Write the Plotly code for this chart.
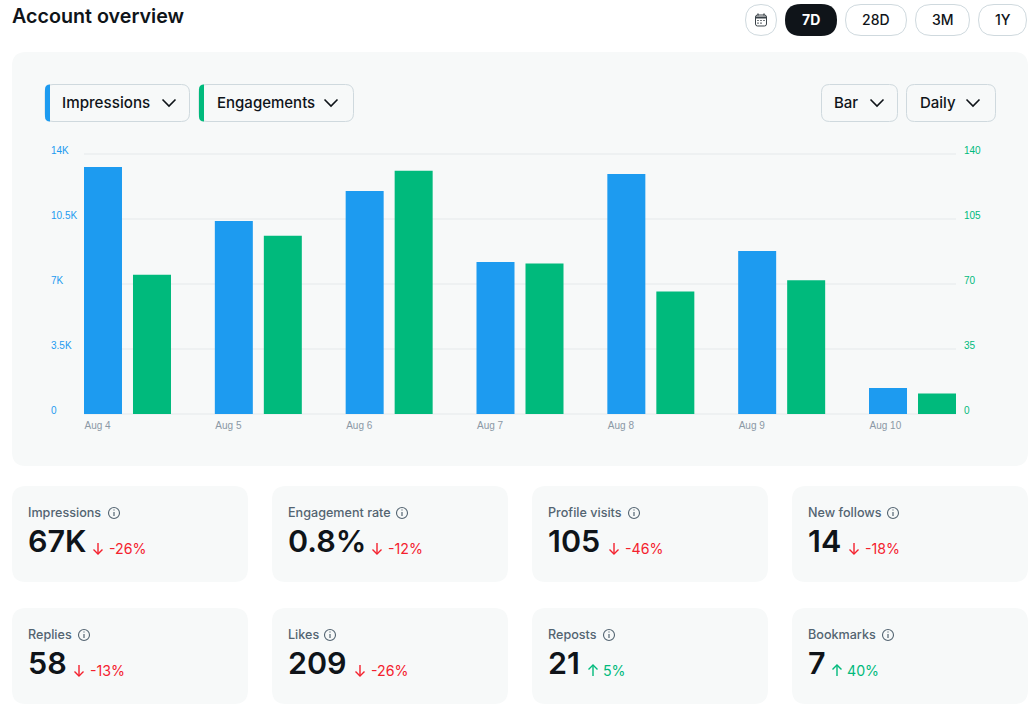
import plotly.graph_objects as go

W = 1030
H = 722

# Chart data
days = ['Aug 4', 'Aug 5', 'Aug 6', 'Aug 7', 'Aug 8', 'Aug 9', 'Aug 10']
impressions = [13300, 10390, 12010, 8185, 12920, 8780, 1400]
engagements = [75, 96, 131, 81, 66, 72, 11]

left_ticks = [0, 3500, 7000, 10500, 14000]
left_labels = ['0', '3.5K', '7K', '10.5K', '14K']
right_ticks = [0, 35, 70, 105, 140]
right_labels = ['0', '35', '70', '105', '140']

# Stat cards
card_names = ['Impressions', 'Engagement rate', 'Profile visits', 'New follows',
              'Replies', 'Likes', 'Reposts', 'Bookmarks']
card_values = ['67K', '0.8%', '105', '14', '58', '209', '21', '7']
card_deltas = ['-26%', '-12%', '-46%', '-18%', '-13%', '-26%', '5%', '40%']

# Where the small bits of each card sit, in pixels
info_x = [114, 402, 634, 893, 84, 330, 609, 888]
arrow_x = [98, 377, 614, 854, 79, 360, 593, 837]
delta_x = [109, 388, 625, 865, 90, 371, 603, 847]

INK = '#0F1419'
GREY = '#536471'
PANEL = '#F7F9F9'
BORDER = '#CFD9DE'
BLUE = '#1D9BF0'
GREEN = '#00BA7C'
RED = '#F4212E'
FONT = 'Inter'


def px(x):
    return x / W


def py(y):
    return 1 - y / H


def pt(x, y):
    return f'{px(x):.5f},{py(y):.5f}'


def round_path(x0, y0, x1, y1, r, left=True, right=True):
    # rounded box as an svg path in paper coordinates
    rl = r if left else 0
    rr = r if right else 0
    return (f'M{pt(x0 + rl, y0)} L{pt(x1 - rr, y0)} '
            f'Q{pt(x1, y0)} {pt(x1, y0 + rr)} L{pt(x1, y1 - rr)} '
            f'Q{pt(x1, y1)} {pt(x1 - rr, y1)} L{pt(x0 + rl, y1)} '
            f'Q{pt(x0, y1)} {pt(x0, y1 - rl)} L{pt(x0, y0 + rl)} '
            f'Q{pt(x0, y0)} {pt(x0 + rl, y0)} Z')


shapes = []
annotations = []


def box(x0, y0, x1, y1, r, fill, line=None, left=True, right=True):
    shapes.append(dict(type='path', xref='paper', yref='paper', layer='below',
                       path=round_path(x0, y0, x1, y1, r, left, right),
                       fillcolor=fill,
                       line=dict(color=line or 'rgba(0,0,0,0)', width=1 if line else 0)))


def stroke(points, color, width=1.5):
    path = 'M' + ' L'.join(pt(x, y) for x, y in points)
    shapes.append(dict(type='path', xref='paper', yref='paper', path=path,
                       line=dict(color=color, width=width)))


def label(x, y, text, size, color, weight=400, anchor='left', family=FONT):
    annotations.append(dict(xref='paper', yref='paper', x=px(x), y=py(y), text=text,
                            showarrow=False, xanchor=anchor, yanchor='middle',
                            borderpad=0, borderwidth=0,
                            font=dict(family=family, size=size, color=color, weight=weight)))


def chevron(cx, cy):
    stroke([(cx - 6.5, cy - 3.5), (cx, cy + 3), (cx + 6.5, cy - 3.5)], INK, 1.6)


# Header
label(12, 16, 'Account overview', 19.7, INK, 600)

box(745.5, 4.5, 776.5, 35.5, 15.5, 'white', BORDER)
box(785, 4, 837, 36, 16, INK)
box(845.5, 4.5, 906.5, 35.5, 15.5, 'white', BORDER)
box(915.5, 4.5, 969.5, 35.5, 15.5, 'white', BORDER)
box(978.5, 4.5, 1026.5, 35.5, 15.5, 'white', BORDER)
label(811, 20, '7D', 14, 'white', 700, 'center')
label(876, 20, '28D', 14, INK, 500, 'center')
label(942.5, 20, '3M', 14, INK, 500, 'center')
label(1002.5, 20, '1Y', 14, INK, 500, 'center')

# Calendar icon
box(755.5, 15, 766.5, 26, 2, 'rgba(0,0,0,0)', '#3A4248')
stroke([(755.5, 17.5), (766.5, 17.5)], '#3A4248', 2)
stroke([(758, 13.5), (758, 15.5)], '#3A4248', 1.3)
stroke([(764, 13.5), (764, 15.5)], '#3A4248', 1.3)
for gx in (758, 761, 764):
    stroke([(gx - 0.7, 20.5), (gx + 0.7, 20.5)], '#3A4248', 1.2)
for gx in (758, 761):
    stroke([(gx - 0.7, 23.2), (gx + 0.7, 23.2)], '#3A4248', 1.2)

# Chart panel
box(12, 52, 1028, 466, 14, PANEL)

# Dropdowns
box(45, 84.5, 189.5, 121.5, 8, PANEL, BORDER)
box(45, 84.5, 50, 121.5, 5, BLUE, right=False)
box(199, 84.5, 353.5, 121.5, 8, PANEL, BORDER)
box(199, 84.5, 204, 121.5, 5, GREEN, right=False)
box(821.5, 84.5, 897.5, 121.5, 8, PANEL, BORDER)
box(906.5, 84.5, 995.5, 121.5, 8, PANEL, BORDER)
label(62, 103, 'Impressions', 15.2, INK, 500)
label(217, 103, 'Engagements', 15, INK, 500)
label(834, 103, 'Bar', 15, INK, 500)
label(920, 103, 'Daily', 15, INK, 500)
chevron(169, 103)
chevron(331, 103)
chevron(877, 103)
chevron(973, 103)

# Cards
for i in range(8):
    col = i % 4
    row = i // 4
    x0 = 12 + col * 260
    y0 = 486 + row * 122
    box(x0, y0, x0 + 236, y0 + 96, 14, PANEL)

    label(x0 + 16, y0 + 26, card_names[i], 12.6, GREY, 500)
    label(x0 + 16, y0 + 54, card_values[i], 30.5, INK, 600)

    # info icon
    ix = info_x[i]
    iy = y0 + 27
    shapes.append(dict(type='circle', xref='paper', yref='paper',
                       x0=px(ix - 5.5), x1=px(ix + 5.5), y0=py(iy + 5.5), y1=py(iy - 5.5),
                       line=dict(color=GREY, width=1.1)))
    stroke([(ix, iy - 1), (ix, iy + 3)], GREY, 1.2)
    stroke([(ix, iy - 3.4), (ix, iy - 2.4)], GREY, 1.2)

    # delta arrow and text
    up = not card_deltas[i].startswith('-')
    colour = GREEN if up else RED
    ax = arrow_x[i]
    top = y0 + 57
    bottom = y0 + 68
    if up:
        stroke([(ax, bottom), (ax, top)], colour, 1.4)
        stroke([(ax - 4.5, top + 4.5), (ax, top), (ax + 4.5, top + 4.5)], colour, 1.4)
    else:
        stroke([(ax, top), (ax, bottom)], colour, 1.4)
        stroke([(ax - 4.5, bottom - 4.5), (ax, bottom), (ax + 4.5, bottom - 4.5)], colour, 1.4)
    label(delta_x[i], y0 + 62, card_deltas[i], 14.2, colour)

# Bars
fig = go.Figure()
fig.add_trace(go.Bar(x=days, y=impressions, name='Impressions', marker_color=BLUE,
                     marker_line_width=0, offsetgroup='1', yaxis='y'))
fig.add_trace(go.Bar(x=days, y=engagements, name='Engagements', marker_color=GREEN,
                     marker_line_width=0, offsetgroup='2', yaxis='y2'))

tick_font = dict(family='Liberation Sans', size=10)

# The y domain runs a little past 0 and 14K (3px and 12px) so the end gridlines
# and end labels are not dropped by plotly
fig.update_layout(
    width=W,
    height=H,
    margin=dict(l=0, r=0, t=0, b=0, autoexpand=False),
    paper_bgcolor='white',
    plot_bgcolor='rgba(0,0,0,0)',
    showlegend=False,
    barmode='group',
    bargap=0.251,
    bargroupgap=0.2245,
    shapes=shapes,
    annotations=annotations,
    xaxis=dict(
        domain=[px(84), px(956)],
        type='category',
        range=[-0.3324, 6.3324],
        automargin=False,
        tickmode='array',
        tickvals=days,
        ticktext=days,
        showgrid=False,
        ticks='',
        ticklabelposition='outside right',
        ticklabelshift=-43,
        ticklabelstandoff=1,
        tickfont=dict(color='#8B98A5', **tick_font),
    ),
    yaxis=dict(
        domain=[py(417), py(142)],
        range=[-161.5, 14646],
        anchor='free',
        position=px(47),
        automargin=False,
        tickmode='array',
        tickvals=left_ticks,
        ticktext=left_labels,
        ticks='',
        ticklabelposition='inside',
        ticklabelshift=-4,
        gridcolor='#EEF1F2',
        gridwidth=1.5,
        zeroline=False,
        tickfont=dict(color=BLUE, **tick_font),
    ),
    yaxis2=dict(
        domain=[py(417), py(142)],
        range=[-1.615, 146.46],
        overlaying='y',
        side='right',
        anchor='x',
        automargin=False,
        tickmode='array',
        tickvals=right_ticks,
        ticktext=right_labels,
        ticks='',
        ticklabelshift=-4,
        ticklabelstandoff=7,
        showgrid=False,
        zeroline=False,
        tickfont=dict(color=GREEN, **tick_font),
    ),
)

# Page margin off so the figure fills the window
fig.write_html("out.html", config=dict(displayModeBar=False),
               post_script="document.body.style.margin='0';document.body.style.overflow='hidden';")
